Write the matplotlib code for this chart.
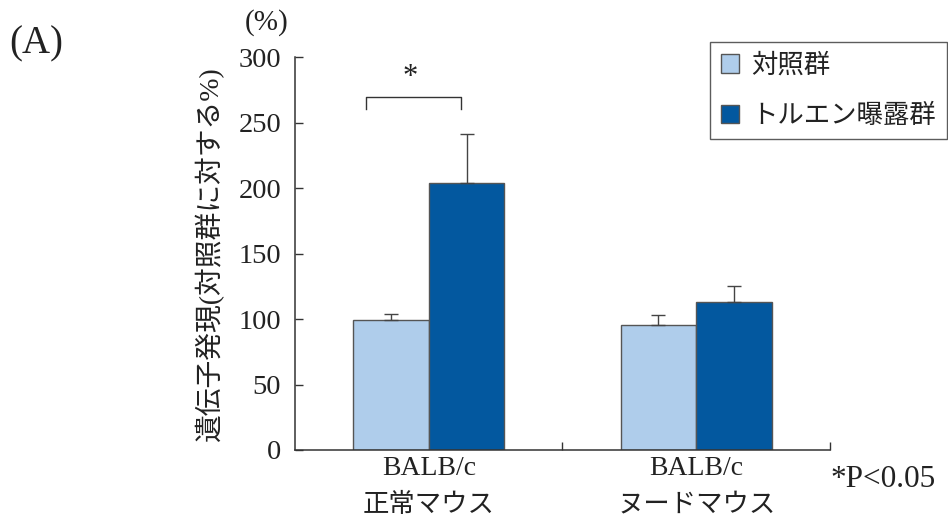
import matplotlib
matplotlib.use('agg')
import matplotlib.pyplot as plt
import numpy as np

plt.rcParams['font.family'] = ['Liberation Serif', 'Noto Sans CJK JP']

# データ
groups = ['BALB/c\n正常マウス', 'BALB/c\nヌードマウス']
series = ['対照群', 'トルエン曝露群']
control = [99, 95.5]
control_err = [5, 7.5]
toluene = [204, 113]
toluene_err = [37, 12]

light = '#AFCDEB'
dark = '#03589F'
edge = '#555555'

fig = plt.figure(figsize=(9.48, 5.17), dpi=100)
ax = fig.add_axes([0.3112, 0.1296, 0.5643, 0.7601])

pos = np.arange(len(groups))
w = 0.283
err_kw = dict(ecolor='#444444', elinewidth=1.0, capsize=5, capthick=1.0)
ax.bar(pos - w / 2, control, w, color=light, edgecolor=edge, linewidth=1.0,
       yerr=[np.zeros(len(control)), control_err], error_kw=err_kw, label=series[0])
ax.bar(pos + w / 2, toluene, w, color=dark, edgecolor=edge, linewidth=1.0,
       yerr=[np.zeros(len(toluene)), toluene_err], error_kw=err_kw, label=series[1])

ax.set_xlim(-0.5, 1.5)
ax.set_ylim(0, 300)
ax.set_yticks(np.arange(0, 301, 50))
ax.set_xticks([0.5, 1.5])
ax.set_xticklabels([])
for sp in ['top', 'right']:
    ax.spines[sp].set_visible(False)
for sp in ['left', 'bottom']:
    ax.spines[sp].set_color('#333333')
    ax.spines[sp].set_linewidth(1.1)
ax.tick_params(axis='both', direction='in', length=6, width=1.0, color='#333333')
ax.tick_params(axis='y', labelsize=20.5, pad=10, labelcolor='#222222')

# カテゴリ名
for p, g in zip(pos, groups):
    top, bottom = g.split('\n')
    ax.text(p, -0.048, top, transform=ax.get_xaxis_transform(), ha='center', va='center',
            fontsize=20, color='#222222')
    ax.text(p, -0.14, bottom, transform=ax.get_xaxis_transform(), ha='center', va='center',
            fontsize=19, color='#222222')

ax.set_ylabel('遺伝子発現(対照群に対する%)', fontsize=20, color='#222222', labelpad=10)

# 有意差
ax.plot([-0.236, -0.236, 0.12, 0.12], [260, 269.5, 269.5, 260], color='#333333', lw=1.0)
ax.text(-0.07, 284, '*', ha='center', va='center', fontsize=22, color='#222222')

fig.text(0.01, 0.915, '(A)', fontsize=28, ha='left', va='center', color='#222222')
fig.text(0.281, 0.957, '(%)', fontsize=21, ha='center', va='center', color='#222222')
fig.text(0.8755, 0.072, '*P<0.05', fontsize=22.5, ha='left', va='center', color='#222222')

leg = ax.legend(loc='upper right', bbox_to_anchor=(0.999, 1 - 42 / 517),
                bbox_transform=fig.transFigure, fontsize=19, frameon=True,
                fancybox=False, edgecolor='#333333', borderaxespad=0,
                handlelength=0.7, handleheight=0.7, handletextpad=0.45,
                labelspacing=1.0, borderpad=0.42)
leg.get_frame().set_linewidth(1.0)
for t in leg.get_texts():
    t.set_color('#222222')

fig.savefig('out.png', dpi=100)
